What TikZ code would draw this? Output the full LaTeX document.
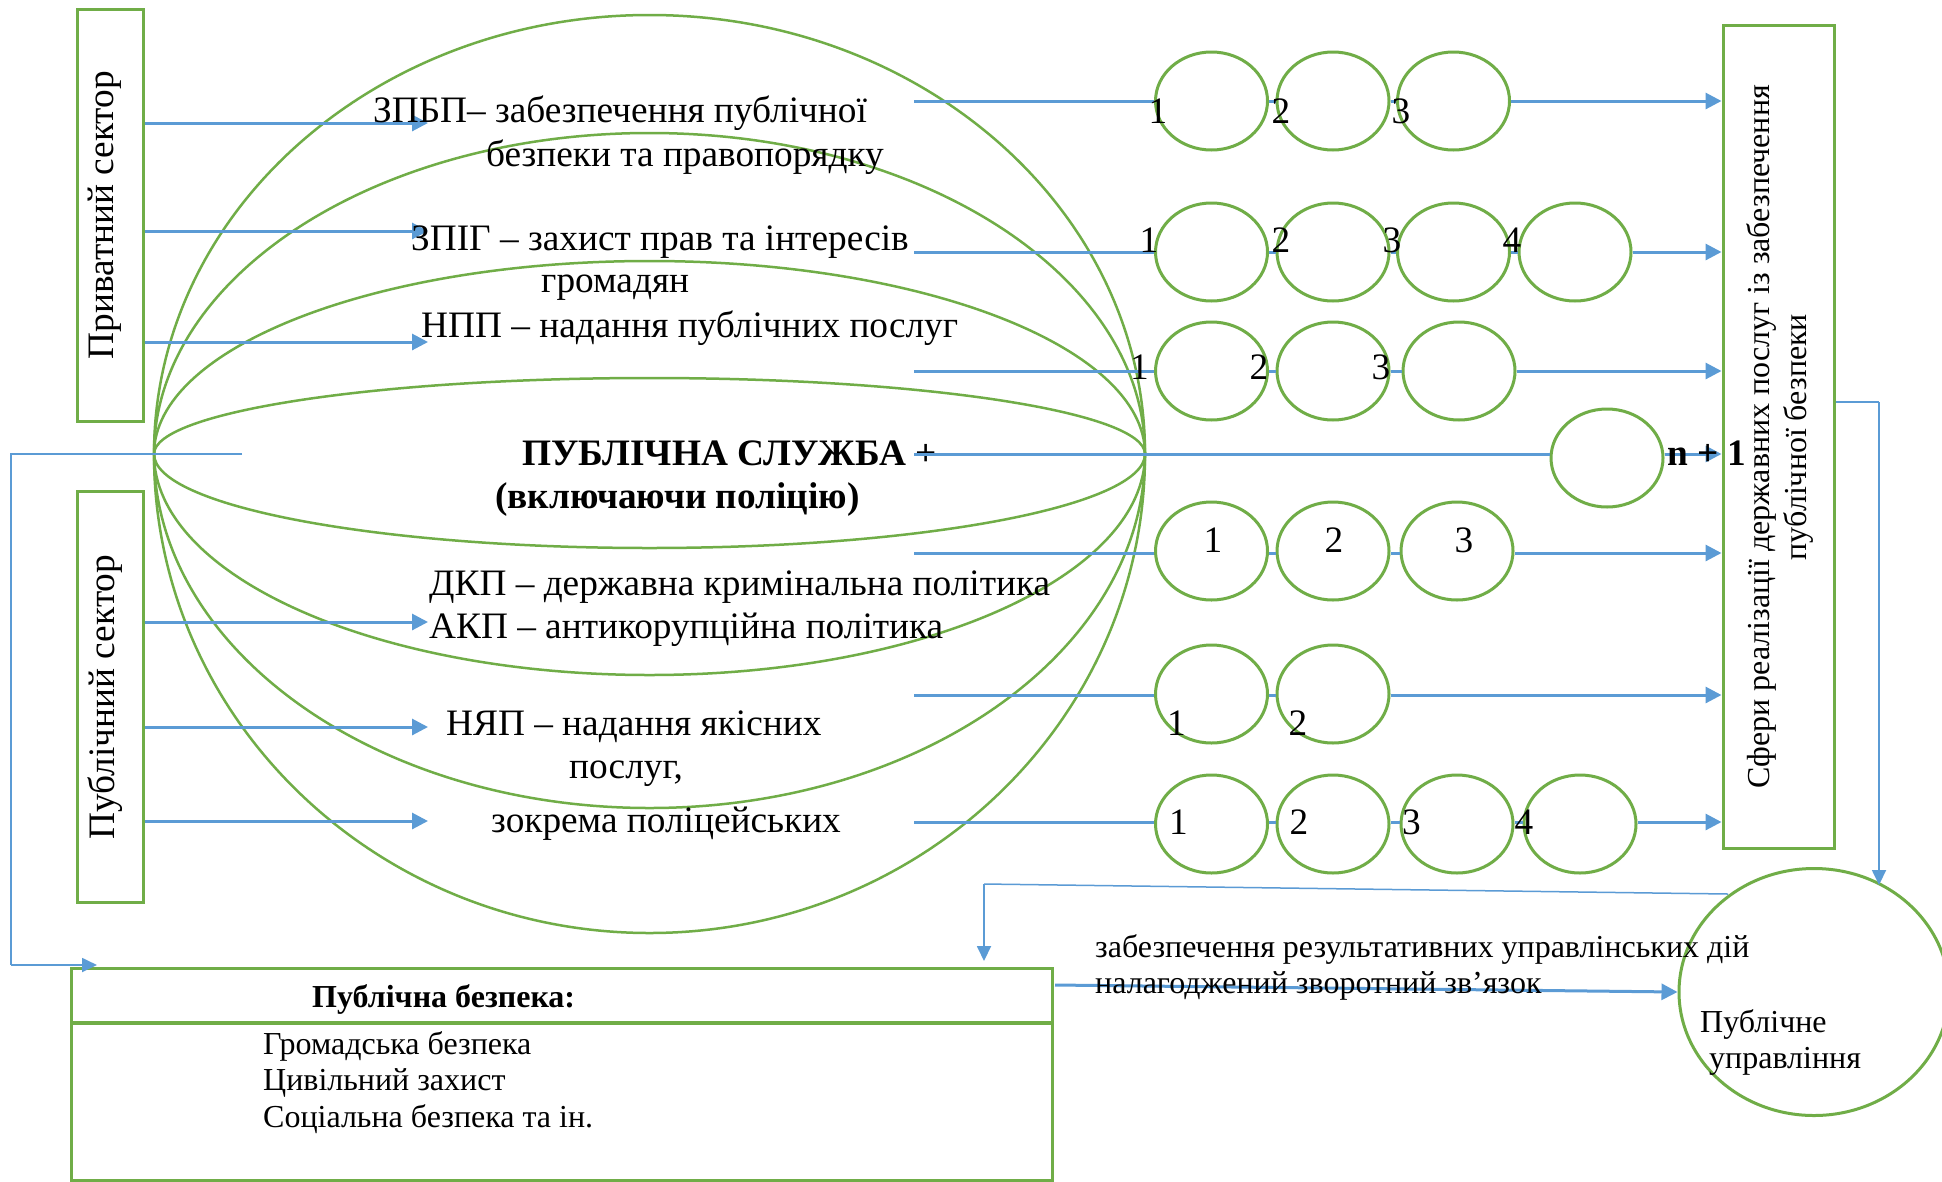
\documentclass[tikz,border=0pt]{standalone}
\usepackage{fontspec}
\setmainfont{Liberation Serif}
\usetikzlibrary{arrows.meta,shapes.geometric}
\definecolor{gr}{HTML}{70AD47}
\definecolor{bl}{HTML}{5B9BD5}
\newcommand\FBig{\fontsize{37.3pt}{42pt}\selectfont}
\newcommand\FMid{\fontsize{32pt}{37pt}\selectfont}
\newcommand\FSm{\fontsize{32pt}{36pt}\selectfont}
\begin{document}
\begin{tikzpicture}[x=1pt,y=-1pt,
  garc/.style={draw=gr, line width=2.5pt},
  gbox/.style={draw=gr, line width=3pt, inner sep=0pt},
  circ/.style={ellipse, draw=gr, line width=3pt, minimum width=112pt, minimum height=98pt, inner sep=0pt},
  bline/.style={draw=bl, line width=3pt},
  barrow/.style={draw=bl, line width=3pt, -{Triangle[length=16pt,width=16pt]}},
  thinb/.style={draw=bl, line width=1.5pt},
  thinarrow/.style={draw=bl, line width=1.8pt, -{Triangle[length=15pt,width=14pt]}},
  lbl/.style={inner sep=0pt, anchor=base west, font=\FBig},
  lbls/.style={inner sep=0pt, anchor=base west, font=\FSm},
  num/.style={inner sep=0pt, anchor=center, font=\FBig}]
\useasboundingbox (0,0) rectangle (1942,1181);
\fill[white] (0,0) rectangle (1942,1181);

% big "sphere" arcs
\foreach \r in {439,321,193,76}
  \draw[garc] (154,454) arc[start angle=180,end angle=0,x radius=495.5pt,y radius=\r pt];
\foreach \r in {94,221,354,479}
  \draw[garc] (154,454) arc[start angle=180,end angle=360,x radius=495.5pt,y radius=\r pt];

% sector boxes
\node[gbox, minimum width=66pt, minimum height=412pt] (priv) at (110,215) {};
\node[rotate=90, font=\FBig, inner sep=0pt] (privt) at (105,215) {Приватний сектор};
\node[gbox, minimum width=66pt, minimum height=411pt] (pub) at (110,696.5) {};
\node[rotate=90, font=\FBig, inner sep=0pt] (pubt) at (105,697) {Публічний сектор};

% arrows from sectors
\coordinate (pa1) at (428,123);
\coordinate (pa2) at (428,231);
\coordinate (pa3) at (428,342);
\coordinate (pb1) at (428,622);
\coordinate (pb2) at (428,727);
\coordinate (pb3) at (428,821);
\foreach \c in {pa1,pa2,pa3} \draw[barrow] (priv.east |- \c) -- (\c);
\foreach \c in {pb1,pb2,pb3} \draw[barrow] (pub.east |- \c) -- (\c);

% labels inside
\node[lbl] (t1a) at (373,122) {ЗПБП– забезпечення публічної};
\node[lbl] (t1b) at (486,166) {безпеки та правопорядку};
\node[lbl] (t2a) at (411,250) {ЗПІГ – захист прав та інтересів};
\node[lbl] (t2b) at (541,292) {громадян};
\node[lbl] (t3) at (421,337) {НПП – надання публічних послуг};
\node[lbl, font=\FBig\bfseries] (tm1) at (522,465) {ПУБЛІЧНА СЛУЖБА +};
\node[lbl, font=\FBig\bfseries] (tm2) at (495,508) {(включаючи поліцію)};
\node[lbl] (t4) at (429,595) {ДКП – державна кримінальна політика};
\node[lbl] (t5) at (429,638) {АКП – антикорупційна політика};
\node[lbl] (t6a) at (446,735) {НЯП – надання якісних};
\node[lbl] (t6b) at (569,778) {послуг,};
\node[lbl] (t6c) at (491,832) {зокрема поліцейських};

% right box
\node[gbox, minimum width=111pt, minimum height=823pt] (sfery) at (1778.5,436.5) {};
\node[rotate=90, font=\FMid, align=center, inner sep=0pt] (sferyt) at (1780,437)
  {Сфери реалізації державних послуг із забезпечення\\публічної безпеки};

% row start coordinates
\coordinate (r1) at (914,101);
\coordinate (r2) at (914,252);
\coordinate (r3) at (914,371);
\coordinate (rn) at (914,454);
\coordinate (r4) at (914,553);
\coordinate (r5) at (914,695);
\coordinate (r6) at (914,822);

% row 1
\node[circ] (c11) at (1211.5,101) {};
\node[circ] (c12) at (1333,101) {};
\node[circ] (c13) at (1453.5,101) {};
\draw[bline] (r1) -- (c11.west);
\draw[bline] (c11.east) -- (c12.west);
\draw[bline] (c12.east) -- (c13.west);
\draw[barrow] (c13.east) -- (sfery.west |- c13.east);
\node[num] (n11) at (1158,111) {1};
\node[num] (n12) at (1281,111) {2};
\node[num] (n13) at (1401,111) {3};

% row 2
\node[circ] (c21) at (1211.5,252) {};
\node[circ] (c22) at (1333,252) {};
\node[circ] (c23) at (1453.5,252) {};
\node[circ] (c24) at (1575,252) {};
\draw[bline] (r2) -- (c21.west);
\draw[bline] (c21.east) -- (c22.west);
\draw[bline] (c22.east) -- (c23.west);
\draw[bline] (c23.east) -- (c24.west);
\draw[barrow] (c24.east) -- (sfery.west |- c24.east);
\node[num] (n21) at (1149,240) {1};
\node[num] (n22) at (1281,240) {2};
\node[num] (n23) at (1392,240) {3};
\node[num] (n24) at (1512,240) {4};

% row 3
\node[circ] (c31) at (1211.5,371) {};
\node[circ] (c32) at (1333,371) {};
\node[circ] (c33) at (1459,371) {};
\draw[bline] (r3) -- (c31.west);
\draw[bline] (c31.east) -- (c32.west);
\draw[bline] (c32.east) -- (c33.west);
\draw[barrow] (c33.east) -- (sfery.west |- c33.east);
\node[num] (n31) at (1139.5,367) {1};
\node[num] (n32) at (1259,367) {2};
\node[num] (n33) at (1381,367) {3};

% row n+1
\node[circ] (cn) at (1607,458) {};
\draw[bline] (rn) -- (cn.west |- rn);
\draw[barrow] (cn.east |- rn) -- (sfery.west |- rn);
\node[lbl, font=\FBig\bfseries] (nn) at (1667,465) {n + 1};

% row 4
\node[circ] (c41) at (1211.5,551) {};
\node[circ] (c42) at (1333,551) {};
\node[circ] (c43) at (1457,551) {};
\draw[bline] (r4) -- (c41.west |- r4);
\draw[bline] (c41.east |- r4) -- (c42.west |- r4);
\draw[bline] (c42.east |- r4) -- (c43.west |- r4);
\draw[barrow] (c43.east |- r4) -- (sfery.west |- r4);
\node[num] (n41) at (1213,540) {1};
\node[num] (n42) at (1334,540) {2};
\node[num] (n43) at (1464,540) {3};

% row 5
\node[circ] (c51) at (1211.5,694) {};
\node[circ] (c52) at (1333,694) {};
\draw[bline] (r5) -- (c51.west |- r5);
\draw[bline] (c51.east |- r5) -- (c52.west |- r5);
\draw[barrow] (c52.east |- r5) -- (sfery.west |- r5);
\node[num] (n51) at (1176.5,723) {1};
\node[num] (n52) at (1298,723) {2};

% row 6
\node[circ] (c61) at (1211.5,824) {};
\node[circ] (c62) at (1333,824) {};
\node[circ] (c63) at (1457,824) {};
\node[circ] (c64) at (1580,824) {};
\draw[bline] (r6) -- (c61.west |- r6);
\draw[bline] (c61.east |- r6) -- (c62.west |- r6);
\draw[bline] (c62.east |- r6) -- (c63.west |- r6);
\draw[bline] (c63.east |- r6) -- (c64.west |- r6);
\draw[barrow] (c64.east |- r6) -- (sfery.west |- r6);
\node[num] (n61) at (1178.5,822) {1};
\node[num] (n62) at (1299,822) {2};
\node[num] (n63) at (1411.5,822) {3};
\node[num] (n64) at (1524,822) {4};

% public administration ellipse
\node[ellipse, draw=gr, line width=3pt, minimum width=270pt, minimum height=247pt, inner sep=0pt] (pubman) at (1814,992) {};
\node[lbls] (pm1) at (1700,1032) {Публічне};
\node[lbls] (pm2) at (1709,1068) {управління};

% public safety box
\node[gbox, minimum width=980.5pt, minimum height=212pt] (safety) at (561.75,1074) {};
\draw[draw=gr, line width=4pt] (safety.west |- 0,1023) -- (safety.east |- 0,1023);
\node[lbls, font=\FSm\bfseries] (sh) at (312,1007) {Публічна безпека:};
\node[lbls] (s1) at (263,1054) {Громадська безпека};
\node[lbls] (s2) at (263,1090) {Цивільний захист};
\node[lbls] (s3) at (263,1127) {Соціальна безпека та ін.};

% feedback connectors
\coordinate (fb1) at (242,454);
\coordinate (fb2) at (11,454);
\coordinate (fb3) at (11,965);
\coordinate (fb4) at (97,965);
\draw[thinb] (fb1) -- (fb2) -- (fb3);
\draw[thinarrow] (fb3) -- (fb4);

\coordinate (rf1) at (1879,402);
\coordinate (rf2) at (1879,885);
\draw[thinb, line width=2pt] (sfery.east |- rf1) -- (rf1);
\draw[thinarrow] (rf1) -- (rf2);

\coordinate (pm0) at (1728,894);
\coordinate (pmL) at (984,884);
\coordinate (pmD) at (984,961);
\draw[thinb] (pm0) -- (pmL);
\draw[thinarrow] (pmL) -- (pmD);

\coordinate (sa) at (1055,985);
\draw[barrow] (sa) -- (pubman.west);

\node[lbls] (b1) at (1095,957) {забезпечення результативних управлінських дій};
\node[lbls] (b2) at (1095,993) {налагоджений зворотний зв’язок};
\end{tikzpicture}
\end{document}
